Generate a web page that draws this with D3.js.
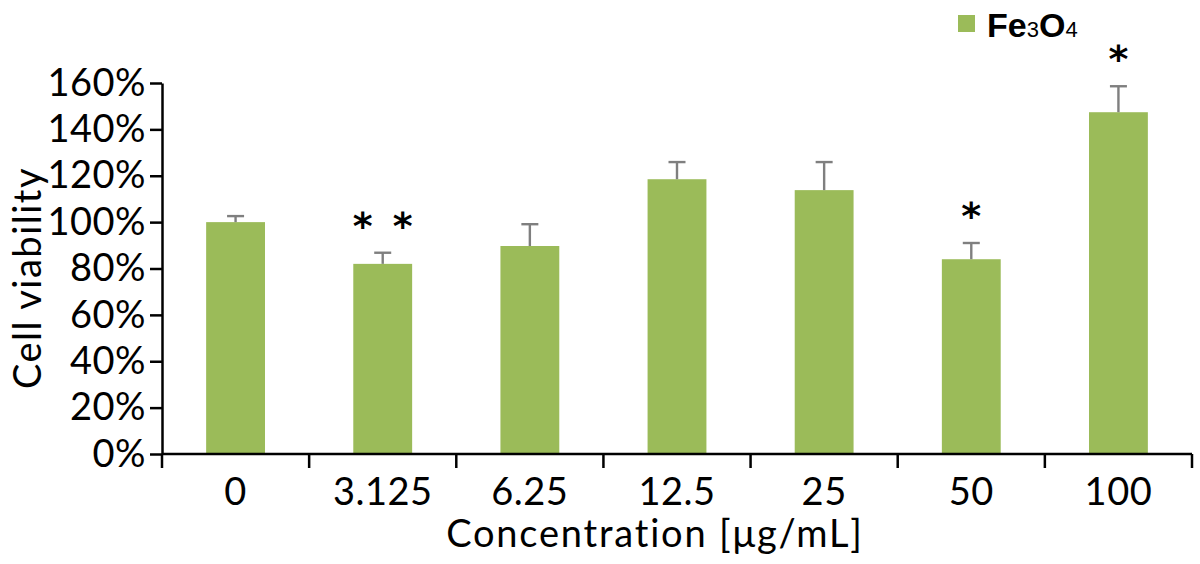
<!DOCTYPE html>
<html>
<head>
<meta charset="utf-8">
<script src="https://cdn.jsdelivr.net/npm/d3@7"></script>
<style>
  body { margin: 0; background: #fff; }
  svg { display: block; font-family: Lato, "Open Sans", sans-serif; }
</style>
</head>
<body>
<div id="chart"></div>
<script>
const categories = ["0", "3.125", "6.25", "12.5", "25", "50", "100"];
const viability = [100, 82, 89.7, 118.5, 113.8, 84, 147.4];
const errors = [2.6, 4.8, 9.4, 7.4, 12.1, 7, 11.2];
const stars = [0, 2, 0, 0, 0, 1, 1];
const yTicks = [0, 20, 40, 60, 80, 100, 120, 140, 160];

(function () {
  const W = 1200, H = 564;
  const margin = { left: 162, right: 8, top: 83, bottom: 110 };
  const color = "#9bbb59";
  const labelFont = 38;

  const svg = d3.select("#chart").append("svg")
    .attr("width", W).attr("height", H);

  const x = d3.scaleBand()
    .domain(categories)
    .range([margin.left, W - margin.right])
    .paddingInner(0.6)
    .paddingOuter(0.3);

  const y = d3.scaleLinear()
    .domain([0, 160])
    .range([H - margin.bottom, margin.top]);

  const data = categories.map((c, i) => ({ c, v: viability[i], e: errors[i], s: stars[i] }));
  const cx = d => x(d.c) + x.bandwidth() / 2;

  // bars
  svg.selectAll(".bar").data(data).enter().append("rect")
    .attr("x", d => x(d.c))
    .attr("width", x.bandwidth())
    .attr("y", d => y(d.v))
    .attr("height", d => y(0) - y(d.v))
    .attr("fill", color);

  // error bars, upper half only
  const eb = svg.selectAll(".err").data(data).enter().append("g")
    .attr("stroke", "#7f7f7f").attr("stroke-width", 2.4);
  eb.append("line")
    .attr("x1", cx).attr("x2", cx)
    .attr("y1", d => y(d.v))
    .attr("y2", d => y(d.v + d.e));
  eb.append("line")
    .attr("x1", d => cx(d) - 8.5)
    .attr("x2", d => cx(d) + 8.5)
    .attr("y1", d => y(d.v + d.e))
    .attr("y2", d => y(d.v + d.e));

  // significance asterisks
  const starList = [];
  data.forEach(d => {
    for (let k = 0; k < d.s; k++) {
      starList.push({ x: cx(d) + (k - (d.s - 1) / 2) * 40, top: y(d.v + d.e) });
    }
  });
  svg.selectAll(".sig").data(starList).enter().append("text")
    .attr("x", d => d.x)
    .attr("y", d => d.top - 36 + 22)
    .attr("text-anchor", "middle")
    .attr("font-family", "'DejaVu Sans', sans-serif")
    .attr("font-weight", "bold")
    .attr("font-size", 38)
    .text("*");

  // y axis
  const yAxis = svg.append("g")
    .attr("transform", `translate(${margin.left},0)`)
    .call(d3.axisLeft(y).tickValues(yTicks).tickSize(12).tickSizeOuter(0)
      .tickFormat(d => d + "%"));
  yAxis.select(".domain").attr("stroke", "#000").attr("stroke-width", 2.5);
  yAxis.selectAll(".tick line").attr("stroke", "#000").attr("stroke-width", 2.5);
  yAxis.selectAll(".tick text")
    .attr("font-family", "Lato, sans-serif")
    .attr("font-size", labelFont).attr("fill", "#000").attr("x", -16)
    .attr("letter-spacing", 0.5);

  // x axis with boundary ticks
  const step = x.step();
  const xAxis = svg.append("g")
    .attr("transform", `translate(0,${y(0)})`);
  xAxis.append("line")
    .attr("x1", margin.left).attr("x2", W - margin.right)
    .attr("stroke", "#000").attr("stroke-width", 2.5);
  const bounds = d3.range(categories.length + 1).map(i => margin.left + i * step);
  xAxis.selectAll(".xt").data(bounds).enter().append("line")
    .attr("x1", d => d).attr("x2", d => d)
    .attr("y1", 0).attr("y2", 14)
    .attr("stroke", "#000").attr("stroke-width", 2.5);
  xAxis.selectAll(".xl").data(categories).enter().append("text")
    .attr("x", d => x(d) + x.bandwidth() / 2)
    .attr("y", 51)
    .attr("text-anchor", "middle")
    .attr("font-family", "Lato, sans-serif")
    .attr("font-size", labelFont)
    .attr("letter-spacing", 0.5)
    .text(d => d);

  // axis titles
  svg.append("text")
    .attr("x", 655)
    .attr("y", 547)
    .attr("text-anchor", "middle")
    .attr("font-family", "Lato, sans-serif")
    .attr("font-size", labelFont)
    .attr("letter-spacing", 1.8)
    .text("Concentration [μg/mL]");
  svg.append("text")
    .attr("transform", "translate(41,278) rotate(-90)")
    .attr("text-anchor", "middle")
    .attr("font-family", "Lato, sans-serif")
    .attr("font-size", labelFont)
    .attr("letter-spacing", 1.5)
    .text("Cell viability");

  // legend
  const lg = svg.append("g").attr("transform", "translate(958,15)");
  lg.append("rect").attr("width", 17).attr("height", 17).attr("fill", color);
  const lt = lg.append("text").attr("x", 29).attr("y", 22)
    .attr("font-family", "'Liberation Sans', Arial, sans-serif")
    .attr("font-weight", "bold").attr("font-size", 34);
  lt.append("tspan").text("Fe");
  lt.append("tspan").attr("font-size", 22).attr("font-weight", "normal").text("3");
  lt.append("tspan").text("O");
  lt.append("tspan").attr("font-size", 22).attr("font-weight", "normal").text("4");
})();
</script>
</body>
</html>
